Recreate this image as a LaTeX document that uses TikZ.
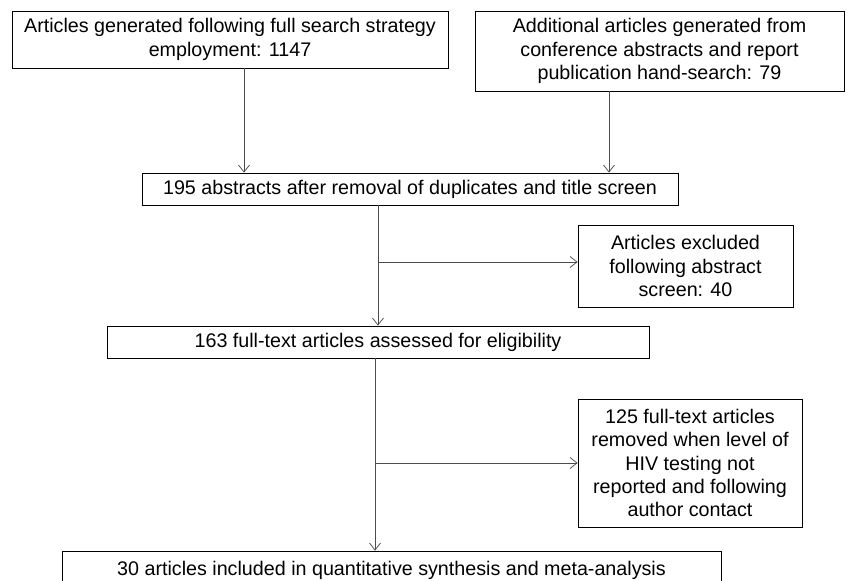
\documentclass[tikz,border=0pt]{standalone}
\usepackage{fontspec}
\setmainfont{Liberation Sans}
\usetikzlibrary{positioning}
\usetikzlibrary{arrows.meta}

\begin{document}
\begin{tikzpicture}[x=1pt, y=-1pt, >={Straight Barb[length=7pt,width=11pt]},
    box/.style={draw, line width=0.75pt, align=center, inner sep=0pt,
        font=\fontsize{19.7}{23.3}\selectfont},
    arr/.style={->, draw=black!70, line width=0.75pt}]
    \useasboundingbox (0,0) rectangle (849,581);
    \clip (0,0) rectangle (849,581);
    \node[box, minimum width=436pt, minimum height=57pt] (search) at (230,39.5)
        {Articles generated following full search strategy\\employment: 1147};
    \node[box, minimum width=369pt, minimum height=80pt] (extra) at (659.5,51)
        {Additional articles generated from\\conference abstracts and report\\publication hand-search: 79};
    \node[box, minimum width=536pt, minimum height=32pt] (abstr) at (410,189)
        {195 abstracts after removal of duplicates and title screen};
    \node[box, minimum width=215pt, minimum height=82pt] (excl) at (685.5,266)
        {Articles excluded\\following abstract\\screen: 40};
    \node[box, minimum width=542pt, minimum height=32pt] (full) at (378,342)
        {163 full-text articles assessed for eligibility};
    \node[box, minimum width=224pt, minimum height=128pt] (removed) at (690,463)
        {125 full-text articles\\removed when level of\\HIV testing not\\reported and following\\author contact};
    \node[box, minimum width=659pt, minimum height=38pt] (incl) at (391.5,570)
        {30 articles included in quantitative synthesis and meta-analysis};
    % connectors
    \coordinate (s1) at ([xshift=14pt]search.south);
    \coordinate (s2) at ([xshift=-50.5pt]extra.south);
    \coordinate (s3) at (full.north |- abstr.south);
    \coordinate (s5) at ([xshift=-3pt]full.south);
    \coordinate (j1) at (378,262);
    \coordinate (j2) at (s5 |- removed.west);
    \draw[arr] (s1) -- (s1 |- abstr.north);
    \draw[arr] (s2) -- (s2 |- abstr.north);
    \draw[arr] (s3) -- (full.north);
    \draw[arr] (j1) -- (j1 -| excl.west);
    \draw[arr] (s5) -- (s5 |- incl.north);
    \draw[arr] (j2) -- (removed.west);
\end{tikzpicture}
\end{document}
